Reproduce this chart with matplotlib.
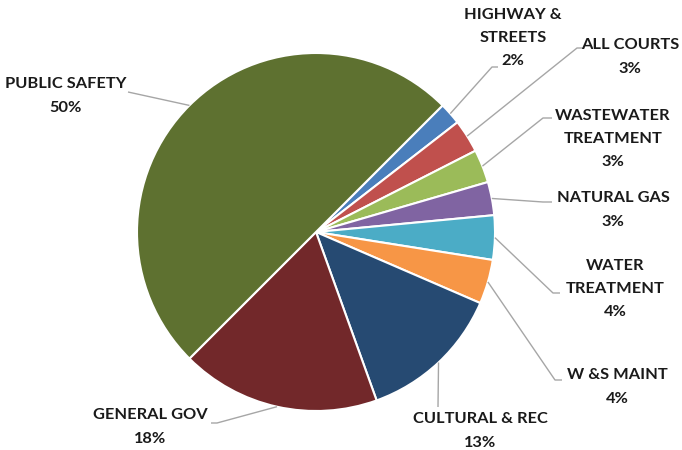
import numpy as np
import matplotlib
matplotlib.use("Agg")
import matplotlib.pyplot as plt

# data (clockwise from the top right)
names = ["HIGHWAY &\nSTREETS", "ALL COURTS", "WASTEWATER\nTREATMENT", "NATURAL GAS",
         "WATER\nTREATMENT", "W &S MAINT", "CULTURAL & REC", "GENERAL GOV", "PUBLIC SAFETY"]
shares = [2, 3, 3, 3, 4, 4, 13, 18, 50]
colors = ["#4A7EBB", "#C0504D", "#9BBB59", "#8064A2", "#4BACC6", "#F79646",
          "#264A72", "#72282A", "#5E7130"]

# label layout in pixel coords (x, y from top): text centre, elbow, end of leader
text_pos = [(513, 38), (630, 57), (613, 139), (613, 210), (615, 289), (617, 387),
            (480, 431), (150, 427), (66, 96)]
elbows = [(492, 67), (577, 48), (543, 118), (543, 202), (553, 293), (555, 380),
          (438, 407), (217, 423), (128, 92)]
ends = [(498, 67), (583, 48), (552, 118), (552, 202), (560, 293), (562, 380),
        (438, 407), (211, 423), (128, 92)]

W, H = 682, 450
cx, cy, r = 316, 232, 179
start = 45

fig = plt.figure(figsize=(6.82, 4.5), dpi=100)
ax = fig.add_axes([0, 0, 1, 1])
ax.pie(shares, colors=colors, startangle=start, counterclock=False, radius=r,
       center=(cx, H - cy), wedgeprops=dict(edgecolor="white", linewidth=1.5))
ax.set_xlim(0, W)
ax.set_ylim(0, H)
ax.set_aspect("equal")
ax.axis("off")

total = sum(shares)
ang = start
for name, val, tp, el, en in zip(names, shares, text_pos, elbows, ends):
    span = 360 * val / total
    mid = np.deg2rad(ang - span / 2)
    ang -= span
    sx = cx + r * np.cos(mid)
    sy = (H - cy) + r * np.sin(mid)
    ax.plot([sx, el[0], en[0]], [sy, H - el[1], H - en[1]], color="#A6A6A6", lw=1.0,
            solid_capstyle="butt")
    ax.text(tp[0], H - tp[1], f"{name}\n{val}%", ha="center", va="center",
            fontsize=11.8, fontweight="bold", family="Lato", color="#1A1A1A",
            linespacing=1.85)

fig.savefig("out.png", dpi=100)
